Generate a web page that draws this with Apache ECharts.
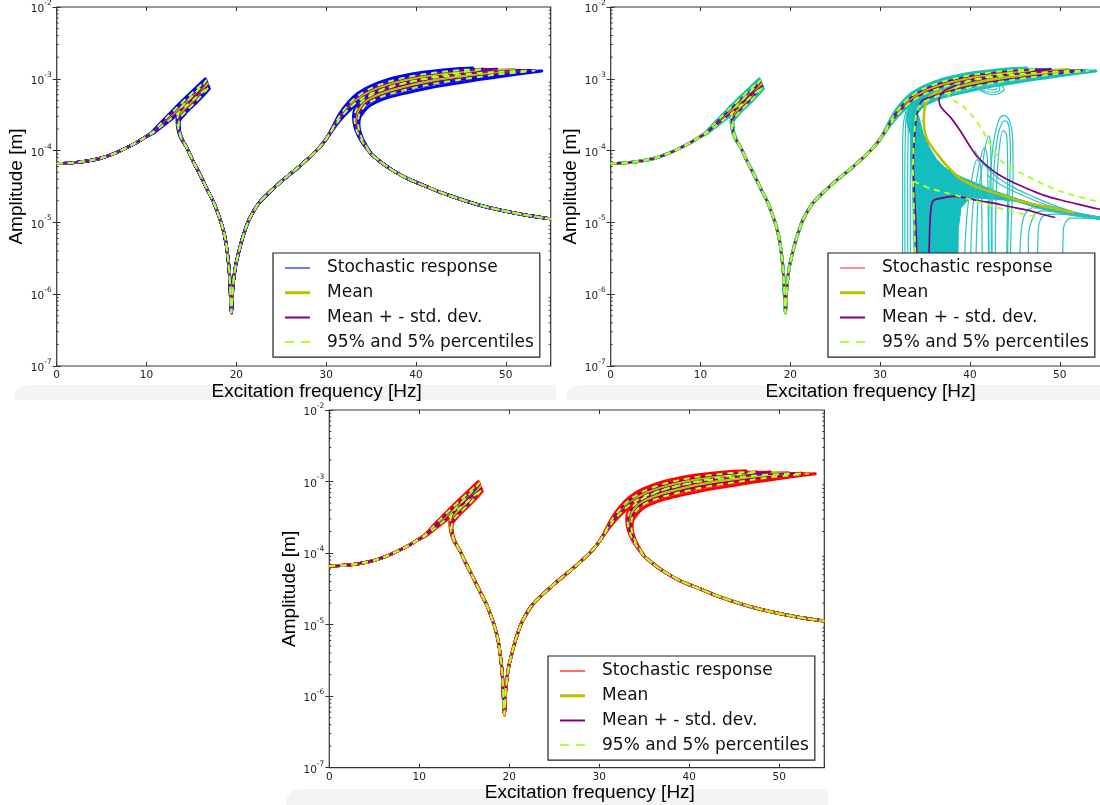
<!DOCTYPE html>
<html><head><meta charset="utf-8">
<script src="https://cdn.jsdelivr.net/npm/echarts@6/dist/echarts.min.js"></script>
<style>html,body{margin:0;padding:0;background:#fff}#c{width:1100px;height:805px}</style>
</head><body><div id="c"></div>
<script>
// ---------------- DATA (frequency [Hz], amplitude [m]) ----------------
const xTickLabels = [0, 10, 20, 30, 40, 50];
const legendNames = ['Stochastic response', 'Mean', 'Mean + - std. dev.', '95% and 5% percentiles'];

// common low-frequency branch
const lowBranch = [[0,6.6e-5],[2,6.8e-5],[4,7.4e-5],[5,7.9e-5],[6,8.7e-5],[7,9.8e-5],[8,1.13e-4],[9,1.32e-4],[9.8,1.52e-4]];
// lower branch after first fold, through anti-resonance
const antiBranch = [[14.5,1.09e-4],[15.1,7.5e-5],[16.0,4.5e-5],[16.8,2.8e-5],[17.4,2.0e-5],[17.8,1.5e-5],[18.3,1.0e-5],[18.7,6.5e-6],[19.0,3.8e-6],[19.25,1.8e-6],[19.45,5.5e-7],[19.6,1.2e-6],[19.8,2.0e-6],[20.0,2.8e-6],[20.5,5.0e-6],[21.0,8.0e-6],[21.5,1.15e-5],[22.5,1.85e-5],[23.5,2.5e-5],[25.2,3.9e-5],[27,6.0e-5],[29,1.02e-4],[30,1.45e-4]];
// lower branch after second fold
const highBranch = [[35.8,7.4e-5],[36.3,6.6e-5],[37.3,5.4e-5],[39,4.1e-5],[41.2,3.15e-5],[43,2.55e-5],[45.2,2.05e-5],[47,1.75e-5],[49.2,1.5e-5],[52,1.28e-5],[55,1.12e-5]];

// first resonance (upper branch -> tip -> unstable branch -> fold)
const res1Top   = [[10.6,1.8e-4],[11.5,2.38e-4],[12.5,3.2e-4],[13.5,4.3e-4],[14.5,5.7e-4],[15.5,7.5e-4],[16.55,1.0e-3],[16.15,8.6e-4],[15.5,7.0e-4],[14.5,5.2e-4],[13.9,4.3e-4],[13.55,3.55e-4],[13.4,2.85e-4],[13.42,2.3e-4],[13.58,1.8e-4],[13.9,1.43e-4]];
const res1P95   = [[10.6,1.78e-4],[11.5,2.32e-4],[12.5,3.1e-4],[13.5,4.1e-4],[14.5,5.4e-4],[15.5,7.1e-4],[16.65,9.5e-4],[16.25,8.2e-4],[15.5,6.5e-4],[14.5,4.85e-4],[13.92,4.05e-4],[13.58,3.35e-4],[13.44,2.78e-4],[13.46,2.27e-4],[13.61,1.79e-4],[13.93,1.42e-4]];
const res1StdUp = [[10.6,1.765e-4],[11.5,2.27e-4],[12.5,3.0e-4],[13.5,3.93e-4],[14.5,5.15e-4],[15.5,6.7e-4],[16.7,9.1e-4],[16.3,7.9e-4],[15.5,6.0e-4],[14.5,4.5e-4],[13.95,3.8e-4],[13.62,3.2e-4],[13.48,2.72e-4],[13.5,2.24e-4],[13.64,1.78e-4],[13.96,1.41e-4]];
const res1Mean  = [[10.6,1.75e-4],[11.5,2.2e-4],[12.5,2.85e-4],[13.5,3.68e-4],[14.5,4.76e-4],[15.5,6.16e-4],[16.8,8.6e-4],[16.4,7.5e-4],[15.5,5.3e-4],[14.5,4.05e-4],[14.0,3.5e-4],[13.66,3.05e-4],[13.52,2.65e-4],[13.54,2.2e-4],[13.67,1.76e-4],[14.0,1.4e-4]];
const res1StdLo = [[10.6,1.735e-4],[11.5,2.14e-4],[12.5,2.72e-4],[13.5,3.45e-4],[14.5,4.45e-4],[15.5,5.7e-4],[16.88,8.0e-4],[16.45,6.9e-4],[15.5,5.0e-4],[14.5,3.8e-4],[14.05,3.3e-4],[13.7,2.92e-4],[13.56,2.58e-4],[13.58,2.16e-4],[13.7,1.75e-4],[14.02,1.39e-4]];
const res1P05   = [[10.6,1.725e-4],[11.5,2.1e-4],[12.5,2.65e-4],[13.5,3.35e-4],[14.5,4.3e-4],[15.5,5.5e-4],[16.92,7.7e-4],[16.48,6.6e-4],[15.5,4.8e-4],[14.5,3.65e-4],[14.08,3.2e-4],[13.73,2.85e-4],[13.6,2.52e-4],[13.61,2.13e-4],[13.73,1.73e-4],[14.04,1.385e-4]];
const res1Bot   = [[10.6,1.7e-4],[11.5,2.06e-4],[12.5,2.58e-4],[13.5,3.25e-4],[14.5,4.15e-4],[15.5,5.3e-4],[17.0,7.3e-4],[16.55,6.3e-4],[15.5,4.6e-4],[14.5,3.5e-4],[14.15,3.1e-4],[13.78,2.75e-4],[13.64,2.45e-4],[13.65,2.08e-4],[13.77,1.71e-4],[14.06,1.38e-4]];

// second resonance: upper branches
const res2TopUp   = [[30.7,2.1e-4],[31.5,3.25e-4],[32.5,4.75e-4],[33.5,6.25e-4],[35,8.0e-4],[37,9.9e-4],[39,1.13e-3],[41,1.24e-3],[43,1.33e-3],[45,1.39e-3],[46.3,1.41e-3]];
const res2P95Up   = [[30.7,2.03e-4],[31.5,3.05e-4],[32.5,4.4e-4],[33.5,5.75e-4],[35,7.4e-4],[37,9.15e-4],[39,1.055e-3],[41,1.165e-3],[43,1.255e-3],[45,1.325e-3],[47.5,1.36e-3]];
const res2StdUpUp = [[30.7,2.02e-4],[31.5,3.0e-4],[32.5,4.3e-4],[33.5,5.6e-4],[35,7.2e-4],[37,8.9e-4],[39,1.03e-3],[41,1.14e-3],[43,1.23e-3],[45,1.3e-3],[47,1.34e-3],[49,1.36e-3]];
const res2MeanUp  = [[30.7,2.0e-4],[31.5,2.9e-4],[32.5,4.1e-4],[33.5,5.3e-4],[35,6.8e-4],[37,8.4e-4],[39,9.7e-4],[41,1.08e-3],[43,1.17e-3],[45,1.23e-3],[47,1.28e-3],[49,1.31e-3],[51,1.33e-3]];
const res2StdLoUp = [[30.7,1.98e-4],[31.5,2.8e-4],[32.5,3.9e-4],[33.5,5.0e-4],[35,6.4e-4],[37,7.9e-4],[39,9.1e-4],[41,1.02e-3],[43,1.11e-3],[45,1.17e-3],[47,1.23e-3],[49,1.27e-3],[51,1.3e-3],[52.5,1.31e-3]];
const res2P05Up   = [[30.7,1.96e-4],[31.5,2.75e-4],[32.5,3.8e-4],[33.5,4.85e-4],[35,6.2e-4],[37,7.65e-4],[39,8.85e-4],[41,9.9e-4],[43,1.08e-3],[45,1.145e-3],[47,1.205e-3],[49,1.25e-3],[51,1.28e-3],[53.2,1.3e-3]];
const res2BotUp   = [[30.7,1.92e-4],[31.5,2.6e-4],[32.5,3.55e-4],[33.5,4.5e-4],[35,5.75e-4],[37,7.1e-4],[39,8.25e-4],[41,9.2e-4],[43,1.01e-3],[45,1.08e-3],[47,1.14e-3],[49,1.2e-3],[51,1.24e-3],[54,1.28e-3]];
// second resonance: unstable branches back to the fold
const res2TopBack   = [[45,1.32e-3],[43,1.21e-3],[41,1.09e-3],[39,9.6e-4],[37,8.1e-4],[35.5,6.9e-4],[34.5,5.85e-4],[33.7,4.8e-4],[33.2,3.8e-4],[33.05,3.05e-4],[33.1,2.45e-4],[33.3,1.95e-4],[33.65,1.55e-4],[34.2,1.2e-4],[35.0,9.0e-5]];
const res2P95Back   = [[45.5,1.25e-3],[43,1.125e-3],[41,1.01e-3],[39,8.85e-4],[37,7.55e-4],[35.5,6.4e-4],[34.5,5.45e-4],[33.75,4.5e-4],[33.3,3.6e-4],[33.15,2.95e-4],[33.2,2.4e-4],[33.38,1.93e-4],[33.72,1.54e-4],[34.25,1.2e-4],[35.0,9.0e-5]];
const res2StdUpBack = [[47,1.25e-3],[45,1.17e-3],[43,1.08e-3],[41,9.7e-4],[39,8.5e-4],[37,7.3e-4],[35.5,6.2e-4],[34.5,5.3e-4],[33.8,4.4e-4],[33.37,3.55e-4],[33.24,2.9e-4],[33.28,2.35e-4],[33.45,1.9e-4],[33.78,1.52e-4],[34.3,1.19e-4],[35.0,9.0e-5]];
const res2MeanBack  = [[49,1.24e-3],[47,1.16e-3],[45,1.08e-3],[43,1.0e-3],[41,9.0e-4],[39,7.9e-4],[37,6.8e-4],[35.5,5.8e-4],[34.5,5.0e-4],[33.9,4.2e-4],[33.5,3.4e-4],[33.36,2.8e-4],[33.4,2.3e-4],[33.55,1.87e-4],[33.85,1.5e-4],[34.35,1.18e-4],[35.0,9.0e-5]];
const res2StdLoBack = [[51,1.23e-3],[49,1.16e-3],[47,1.09e-3],[45,1.01e-3],[43,9.3e-4],[41,8.4e-4],[39,7.4e-4],[37,6.3e-4],[35.5,5.4e-4],[34.5,4.65e-4],[34.0,3.9e-4],[33.6,3.2e-4],[33.48,2.65e-4],[33.52,2.2e-4],[33.67,1.83e-4],[33.93,1.48e-4],[34.4,1.17e-4],[35.05,8.9e-5]];
const res2P05Back   = [[51.5,1.23e-3],[49,1.15e-3],[47,1.06e-3],[45,9.75e-4],[43,8.95e-4],[41,8.05e-4],[39,7.1e-4],[37,6.1e-4],[35.5,5.2e-4],[34.55,4.5e-4],[34.0,3.75e-4],[33.65,3.1e-4],[33.55,2.55e-4],[33.6,2.1e-4],[33.75,1.78e-4],[34.0,1.45e-4],[34.45,1.16e-4],[35.1,8.8e-5]];
const res2BotBack   = [[52,1.19e-3],[50,1.1e-3],[47,9.75e-4],[45,8.9e-4],[43,8.1e-4],[41,7.25e-4],[39,6.4e-4],[37,5.55e-4],[35.5,4.7e-4],[34.7,4.1e-4],[34.15,3.45e-4],[33.75,2.9e-4],[33.65,2.4e-4],[33.7,2.0e-4],[33.85,1.7e-4],[34.1,1.42e-4],[34.5,1.15e-4],[35.1,8.8e-5]];

// top-right panel: statistics after the second resonance
const p2MeanBack  = [[49,1.24e-3],[47,1.16e-3],[45,1.08e-3],[43,1.0e-3],[41,9.0e-4],[39,7.9e-4],[37,6.8e-4],[36,6.3e-4],[35.3,5.2e-4],[35.0,4.1e-4],[34.85,2.7e-4],[35.0,1.75e-4],[35.4,1.3e-4],[36.0,1.02e-4],[36.8,7.6e-5],[37.5,6.0e-5],[38.9,4.1e-5],[40.5,3.2e-5],[42.65,2.6e-5],[44.5,2.2e-5],[46.4,1.86e-5],[49,1.6e-5],[51.6,1.36e-5]];
const p2StdUpBack = [[47,1.25e-3],[45,1.17e-3],[43,1.08e-3],[41,9.7e-4],[39,8.5e-4],[37.5,7.2e-4],[36.8,6.2e-4],[36.55,5.2e-4],[36.7,4.2e-4],[37.2,3.5e-4],[37.8,2.95e-4],[38.9,1.9e-4],[40.05,1.12e-4],[40.8,8.2e-5],[42,6.0e-5],[43,4.8e-5],[44.6,3.7e-5],[46.4,2.95e-5],[48.2,2.4e-5],[50.1,2.05e-5],[52,1.8e-5],[54.2,1.55e-5],[55,1.5e-5]];
const p2P95Back   = [[45.5,1.25e-3],[43,1.125e-3],[41,1.01e-3],[39.5,9.0e-4],[38.3,7.3e-4],[37.6,6.0e-4],[38.2,5.0e-4],[39.3,4.1e-4],[40.3,3.0e-4],[41.2,2.1e-4],[42.3,1.2e-4],[43.4,7.4e-5],[44.8,5.5e-5],[46.4,4.4e-5],[48.2,3.4e-5],[50.1,2.7e-5],[52,2.3e-5],[54.2,1.95e-5],[55,1.85e-5]];
const p2StdLoBack = [[51,1.23e-3],[49,1.16e-3],[47,1.09e-3],[45,1.01e-3],[43,9.3e-4],[41,8.4e-4],[39,7.4e-4],[37,6.3e-4],[35.5,5.5e-4],[34.6,4.9e-4],[34.2,3.6e-4],[33.95,2.3e-4],[33.8,1.3e-4],[33.7,7.4e-5],[33.75,3.5e-5],[33.9,1.5e-5],[34.05,5e-6],[34.15,1e-6]];
const p2StdLoLow  = [[35.4,1e-6],[35.45,3.9e-6],[35.55,1.0e-5],[35.7,1.7e-5],[36.0,2.05e-5],[37,2.2e-5],[38.2,2.3e-5],[39.5,2.2e-5],[41,2.0e-5],[42.65,1.86e-5],[44.5,1.65e-5],[46.4,1.48e-5],[48,1.3e-5],[49.5,1.17e-5]];
const p2P05Back   = [[51.5,1.23e-3],[49,1.15e-3],[47,1.06e-3],[45,9.75e-4],[43,8.95e-4],[41,8.05e-4],[39,7.1e-4],[37,6.1e-4],[35.5,5.2e-4],[34.6,4.5e-4],[34.1,3.6e-4],[33.9,2.4e-4],[33.75,1.3e-4],[33.65,6e-5],[33.7,2.5e-5],[33.8,1.0e-5],[33.9,4e-6],[34.0,1e-6]];
const p2P05Low    = [[33.7,3.7e-5],[34.5,3.4e-5],[35.5,3.0e-5],[37,2.65e-5],[38.9,2.3e-5],[40.5,2.0e-5],[42.65,1.66e-5],[44.5,1.45e-5],[46,1.3e-5],[47.5,1.18e-5]];

// top-right panel: scattered stochastic responses
const p2Fan = [[33.6,4.3e-4],[34.3,3.0e-4],[34.8,1.7e-4],[35.4,1.15e-4],[36.2,7.8e-5],[37.3,5.6e-5],[38.9,4.2e-5],[40.5,3.3e-5],[42.5,2.7e-5],[44.5,2.25e-5],[46.5,1.9e-5],[44.5,2.0e-5],[42,2.15e-5],[40,2.2e-5],[39,1.6e-5],[38.7,8e-6],[38.6,1e-6],[33.9,1e-6],[33.6,3e-5],[33.4,1.5e-4]];
const p2Drop1 = [[33.2,3.9e-4],[32.9,3.0e-4],[32.8,1.5e-4],[32.75,5e-5],[32.75,1e-5],[32.8,1e-6]];
const p2Drop2 = [[33.5,4.2e-4],[33.2,3.0e-4],[33.1,1.2e-4],[33.05,3e-5],[33.1,1e-6]];
const p2Drop3 = [[33.8,4.4e-4],[33.5,3.2e-4],[33.4,1.5e-4],[33.35,2e-5],[33.4,1e-6]];
const p2Drop4 = [[32.9,3.6e-4],[32.6,2.4e-4],[32.5,1.0e-4],[32.5,1e-6]];
const p2Flame1 = [[39.3,1e-6],[39.6,1e-5],[40.2,4e-5],[40.8,7.5e-5],[41.2,6e-5],[41.3,2e-5],[41.4,1e-6]];
const p2Flame2 = [[40.0,1e-6],[40.3,1.5e-5],[41.0,6e-5],[41.6,1.1e-4],[41.9,9e-5],[42.0,3e-5],[42.1,1e-6]];
const p2Flame3 = [[40.6,1e-6],[40.9,2e-5],[41.5,8e-5],[42.1,1.6e-4],[42.3,1.2e-4],[42.35,3e-5],[42.4,1e-6]];
const p2Loop1 = [[42.2,1e-6],[42.1,1e-5],[42.3,5e-5],[42.7,1.5e-4],[43.3,2.8e-4],[43.8,3.1e-4],[44.4,2.6e-4],[44.75,1.5e-4],[44.8,5e-5],[44.6,1e-5],[44.4,1e-6]];
const p2Loop2 = [[42.5,1e-6],[42.45,1.2e-5],[42.7,6e-5],[43.1,1.6e-4],[43.6,2.5e-4],[44.0,2.6e-4],[44.4,1.9e-4],[44.5,8e-5],[44.3,1.5e-5],[44.1,1e-6]];
const p2Loop3 = [[42.8,1e-6],[42.9,2e-5],[43.2,9e-5],[43.7,1.9e-4],[44.1,1.6e-4],[44.2,5e-5],[44.0,1e-6]];
const p2Ring  = [[40.0,9.5e-4],[40.8,7.6e-4],[41.5,6.5e-4],[42.5,6.0e-4],[43.4,6.4e-4],[43.8,7.2e-4],[43.4,8.2e-4],[42.5,8.6e-4],[41.6,8.2e-4],[41.2,7.4e-4],[41.7,6.7e-4],[42.6,6.5e-4],[43.3,7.0e-4],[43.2,7.8e-4],[42.5,8.1e-4],[41.9,7.7e-4],[42.1,7.1e-4],[42.8,7.0e-4],[43.0,7.5e-4]];
const p2Tail1 = [[40.5,1.0e-4],[41.5,6.5e-5],[43,4.3e-5],[45,3.0e-5],[47,2.3e-5],[49.5,1.7e-5],[52,1.35e-5],[55,1.12e-5]];
const p2Tail2 = [[42,4.5e-5],[43.5,3.3e-5],[45.5,2.5e-5],[48,1.85e-5],[51,1.45e-5],[55,1.15e-5]];
const p2Hook1 = [[45.5,1e-6],[45.6,5e-6],[46.0,1.2e-5],[47.0,1.6e-5],[49,1.45e-5],[52,1.25e-5],[55,1.1e-5]];
const p2Hook2 = [[46.6,1e-6],[46.5,6e-6],[47.2,1.3e-5],[48.2,1.45e-5],[50,1.35e-5],[53,1.18e-5],[55,1.1e-5]];
const p2Hook3 = [[47.5,1e-6],[47.6,8e-6],[48.3,1.25e-5],[50,1.3e-5],[52.5,1.2e-5],[55,1.08e-5]];
const p2Hook4 = [[50.3,1e-6],[50.4,8e-6],[51.2,1.15e-5],[53,1.15e-5],[55,1.08e-5]];

// ---------------- build curves ----------------
const cat = (...a) => [].concat(...a);
const full = (r1, r2up, r2back) => cat(lowBranch, r1, antiBranch, r2up, r2back, highBranch);
const curves = {
  top:   full(res1Top, res2TopUp, res2TopBack),
  p95:   full(res1P95, res2P95Up, res2P95Back),
  stdUp: full(res1StdUp, res2StdUpUp, res2StdUpBack),
  mean:  full(res1Mean, res2MeanUp, res2MeanBack),
  stdLo: full(res1StdLo, res2StdLoUp, res2StdLoBack),
  p05:   full(res1P05, res2P05Up, res2P05Back),
  bot:   full(res1Bot, res2BotUp, res2BotBack)
};
const part = (r1, r2up, r2back) => cat(lowBranch, r1, antiBranch, r2up, r2back);
const curves2 = {
  mean:  part(res1Mean, res2MeanUp, p2MeanBack),
  stdUp: part(res1StdUp, res2StdUpUp, p2StdUpBack),
  stdLo: part(res1StdLo, res2StdLoUp, p2StdLoBack),
  p95:   part(res1P95, res2P95Up, p2P95Back),
  p05:   part(res1P05, res2P05Up, p2P05Back)
};

const COL = {mean:'#bfbf00', std:'#800080', pct:'#adff2f'};
const panels = [
  {stoch:'#0000ff', legStoch:'#4646ff', grid:{left:56.7, top:7, width:494, height:359}, leg:{left:273, top:253}},
  {stoch:'#12bebe', legStoch:'#ff6a6a', grid:{left:610.7, top:7, width:494, height:359}, leg:{left:828, top:253}},
  {stoch:'#ff0000', legStoch:'#ff3c3c', grid:{left:329.3, top:410, width:495, height:357.7}, leg:{left:548, top:656}}
];

const minorTickVals = [];
for (let e = -7; e < -2; e++) for (let m = 2; m <= 9; m++) minorTickVals.push(m * Math.pow(10, e));

function fmtLog(v) { const e = Math.round(Math.log10(v)); return '{b|10}{s|' + e + '}'; }

const grids = [], xAxes = [], yAxes = [], series = [], legends = [];
const tickStyle = {show:true, inside:true, length:4, lineStyle:{color:'#333', width:1}};
panels.forEach((p, i) => {
  grids.push(Object.assign({show:true, borderColor:'#333', borderWidth:1.2, backgroundColor:'transparent', containLabel:false, outerBoundsMode:'none'}, p.grid));
  xAxes.push({type:'value', gridIndex:i, min:0, max:55, interval:10, position:'bottom',
    axisLine:{show:false}, splitLine:{show:false}, axisTick:tickStyle,
    axisLabel:{margin:4, fontFamily:'DejaVu Sans', fontSize:10.5, color:'#222', formatter: v => (xTickLabels.indexOf(v) >= 0 ? String(v) : '')},
    name:'Excitation frequency [Hz]', nameLocation:'middle', nameGap:12,
    nameTextStyle:{fontFamily:'Liberation Sans', fontSize:19, color:'#000', padding:[0,0,0,26]}});
  xAxes.push({type:'value', gridIndex:i, min:0, max:55, interval:10, position:'top',
    axisLine:{show:false}, splitLine:{show:false}, axisTick:tickStyle, axisLabel:{show:false}});
  yAxes.push({type:'log', logBase:10, gridIndex:i, min:1e-7, max:1e-2, splitNumber:5, position:'left',
    axisLine:{show:false}, splitLine:{show:false}, axisTick:tickStyle,
    axisLabel:{margin:5, formatter: fmtLog, rich:{
      b:{fontFamily:'DejaVu Sans', fontSize:10.5, color:'#222', lineHeight:16, verticalAlign:'bottom'},
      s:{fontFamily:'DejaVu Sans', fontSize:7.5, color:'#222', lineHeight:8, verticalAlign:'top'}}},
    name:'Amplitude [m]', nameLocation:'middle', nameGap:30, nameRotate:90,
    nameTextStyle:{fontFamily:'Liberation Sans', fontSize:19, color:'#000'}});
  yAxes.push({type:'log', logBase:10, gridIndex:i, min:1e-7, max:1e-2, splitNumber:5, position:'right',
    axisLine:{show:false}, splitLine:{show:false}, axisTick:tickStyle, axisLabel:{show:false}});

  const xi = 2 * i, yi = 2 * i;
  const L = (name, data, color, width, dash, z, smooth) => series.push({
    type:'line', name, data, xAxisIndex:xi, yAxisIndex:yi, showSymbol:false, symbol:'none',
    smooth: smooth === undefined ? 0.25 : smooth, silent:true, animation:false, z: z || 2,
    lineStyle:{color, width, type: dash ? [6,5] : 'solid', cap:'butt', join:'round'},
    itemStyle:{color}, emphasis:{disabled:true}
  });
  // minor ticks (log axis, 2..9 per decade) on left and right spines
  series.push({type:'custom', xAxisIndex:xi, yAxisIndex:yi, silent:true, animation:false, clip:false, z:6,
    data: minorTickVals.map(v => [0, v]),
    renderItem: (params, api) => {
      const a = api.coord([0, api.value(1)]), b = api.coord([55, api.value(1)]);
      return {type:'group', children:[
        {type:'line', shape:{x1:a[0], y1:a[1], x2:a[0] + 2, y2:a[1]}, style:{stroke:'#333', lineWidth:1}},
        {type:'line', shape:{x1:b[0] - 2, y1:b[1], x2:b[0], y2:b[1]}, style:{stroke:'#333', lineWidth:1}}]};
    }});
  // stochastic responses
  const S = 'Stochastic response';
  ['top','p95','stdUp','mean','stdLo','p05','bot'].forEach(k => L(S, curves[k], p.stoch, 3, false, 2));
  if (i === 1) {
    series.push({type:'custom', name:S, xAxisIndex:xi, yAxisIndex:yi, silent:true, animation:false, clip:true, z:2,
      data:[p2Fan[0]],
      renderItem: (params, api) => ({type:'polygon', shape:{points: p2Fan.map(q => api.coord(q))},
        style:{fill:p.stoch, stroke:p.stoch, lineWidth:1}})});
    [p2Drop1,p2Drop2,p2Drop3,p2Drop4,p2Flame1,p2Flame2,p2Flame3,p2Loop1,p2Loop2,p2Loop3,p2Ring,p2Tail1,p2Tail2,p2Hook1,p2Hook2,p2Hook3,p2Hook4]
      .forEach(d => L(S, d, '#2cc3c3', 1.2, false, 2, 0.35));
    L('Mean', curves2.mean, COL.mean, 2.6, false, 3);
    L('Mean + - std. dev.', curves2.stdUp, COL.std, 1.7, false, 4);
    L('Mean + - std. dev.', curves2.stdLo, COL.std, 1.7, false, 4);
    L('Mean + - std. dev.', p2StdLoLow, COL.std, 1.7, false, 4);
    L('95% and 5% percentiles', curves2.p95, COL.pct, 2, true, 5);
    L('95% and 5% percentiles', curves2.p05, COL.pct, 2, true, 5);
    L('95% and 5% percentiles', p2P05Low, COL.pct, 2, true, 5);
  } else {
    L('Mean', curves.mean, COL.mean, 2.6, false, 3);
    L('Mean + - std. dev.', curves.stdUp, COL.std, 1.7, false, 4);
    L('Mean + - std. dev.', curves.stdLo, COL.std, 1.7, false, 4);
    L('95% and 5% percentiles', curves.p95, COL.pct, 2, true, 5);
    L('95% and 5% percentiles', curves.p05, COL.pct, 2, true, 5);
  }

  legends.push({orient:'vertical', left:p.leg.left, top:p.leg.top, padding:[6.5,6,6.5,12], itemGap:7.7,
    itemWidth:25, itemHeight:10, backgroundColor:'#fff', borderColor:'#222', borderWidth:1.2, borderRadius:0,
    selectedMode:false, z:10,
    textStyle:{fontFamily:'DejaVu Sans', fontSize:17, color:'#111', padding:[0,0,0,12]},
    itemStyle:{borderWidth:0}, lineStyle:{width:0},
    data:[
      {name:legendNames[0], icon:'path://M0,0L1,0Z M0,4.3H25V5.7H0Z M0,10L1,10Z', itemStyle:{color:p.legStoch, borderWidth:0}},
      {name:legendNames[1], icon:'path://M0,0L1,0Z M0,3.5H25V6.5H0Z M0,10L1,10Z', itemStyle:{color:COL.mean, borderWidth:0}},
      {name:legendNames[2], icon:'path://M0,0L1,0Z M0,4H25V6H0Z M0,10L1,10Z', itemStyle:{color:COL.std, borderWidth:0}},
      {name:legendNames[3], icon:'path://M0,0L1,0Z M0,4H9V6H0Z M16,4H25V6H16Z M0,10L1,10Z', itemStyle:{color:COL.pct, borderWidth:0}}
    ]});
});

const chart = echarts.init(document.getElementById('c'), null, {renderer:'canvas'});
chart.setOption({
  animation:false,
  backgroundColor:'#fff',
  graphic:[
    {type:'rect', z:-10, shape:{x:14, y:385, width:542, height:15, r:[14,0,0,0]}, style:{fill:'#f4f4f4'}},
    {type:'rect', z:-10, shape:{x:566, y:385, width:540, height:15, r:[14,0,0,0]}, style:{fill:'#f4f4f4'}},
    {type:'rect', z:-10, shape:{x:286, y:789, width:542, height:16, r:[14,0,0,0]}, style:{fill:'#f4f4f4'}}
  ],
  grid: grids, xAxis: xAxes, yAxis: yAxes, legend: legends, series
});
</script>
</body></html>
